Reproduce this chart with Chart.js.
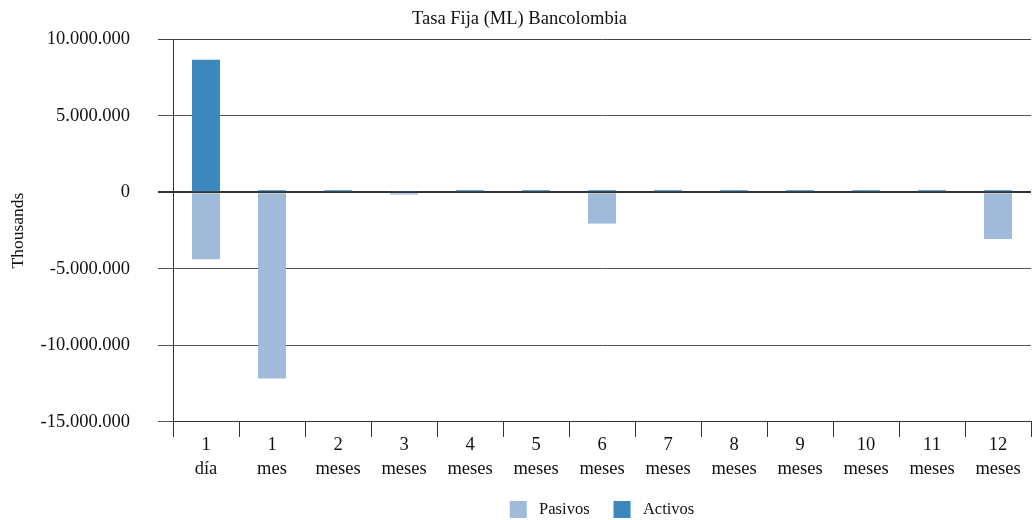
<!DOCTYPE html>
<html>
<head>
    <meta charset="utf-8">
    <title>Tasa Fija (ML) Bancolombia</title>
    <style>
        body { margin: 0; background: #fff; }
        #wrap { width: 1036px; height: 520px; }
    </style>
    <script src="https://cdn.jsdelivr.net/npm/chart.js@4/dist/chart.umd.min.js"></script>
</head>
<body>
    <div id="wrap"><canvas id="myChart" width="1036" height="520"></canvas></div>
    <script>
        var categorias = [['1', 'día'], ['1', 'mes'], ['2', 'meses'], ['3', 'meses'], ['4', 'meses'], ['5', 'meses'],
            ['6', 'meses'], ['7', 'meses'], ['8', 'meses'], ['9', 'meses'], ['10', 'meses'], ['11', 'meses'], ['12', 'meses']];
        var pasivos = [-4380000, -12170000, 0, -150000, 0, 0, -2050000, 0, 0, 0, 0, 0, -3050000];
        var activos = [8650000, 130000, 130000, 80000, 130000, 130000, 130000, 130000, 130000, 130000, 130000, 130000, 130000];
        var yTicks = [10000000, 5000000, 0, -5000000, -10000000, -15000000];

        function miles(v) {
            var s = Math.abs(v).toString().replace(/\B(?=(\d{3})+(?!\d))/g, '.');
            return (v < 0 ? '-' : '') + s;
        }

        Chart.defaults.font.family = "'Liberation Serif', 'Times New Roman', serif";
        Chart.defaults.color = '#111';

        var ctx = document.getElementById('myChart').getContext('2d');
        var myChart = new Chart(ctx, {
            type: 'bar',
            data: {
                labels: categorias,
                datasets: [{
                    label: ' Pasivos',
                    data: pasivos,
                    backgroundColor: '#a0bbd9'
                }, {
                    label: ' Activos',
                    data: activos,
                    backgroundColor: '#3b88bd'
                }]
            },
            options: {
                responsive: false,
                animation: false,
                layout: { padding: { left: 8, right: 5, top: 5, bottom: -8 } },
                categoryPercentage: 1,
                barPercentage: 0.424,
                plugins: {
                    title: {
                        display: true,
                        text: 'Tasa Fija (ML) Bancolombia',
                        font: { size: 18.5, weight: 'normal' },
                        padding: { top: 0, bottom: 9 }
                    },
                    legend: {
                        position: 'bottom',
                        fullSize: false,
                        labels: { boxWidth: 17, boxHeight: 17, padding: 24, font: { size: 16.5 } }
                    },
                    tooltip: { enabled: false }
                },
                scales: {
                    x: {
                        stacked: true,
                        grid: {
                            offset: true,
                            drawOnChartArea: false,
                            tickLength: 15,
                            color: '#333'
                        },
                        border: { color: '#333' },
                        ticks: { font: { size: 18.5, lineHeight: 1.3 }, maxRotation: 0, padding: -4, color: '#111' }
                    },
                    y: {
                        stacked: true,
                        min: -15000000,
                        max: 10000000,
                        afterBuildTicks: function (scale) {
                            scale.ticks = yTicks.map(function (v) { return { value: v }; });
                        },
                        afterFit: function (scale) { scale.width = 165; },
                        title: { display: true, text: 'Thousands', font: { size: 17.5 }, padding: 0 },
                        grid: {
                            tickLength: 15,
                            color: function (c) {
                                if (c.tick && c.tick.value === 0) return '#333';
                                if (c.tick && c.tick.value === 10000000) return '#444';
                                return '#555';
                            },
                            lineWidth: function (c) {
                                return c.tick && c.tick.value === 0 ? 2 : 1;
                            }
                        },
                        border: { color: '#333' },
                        ticks: {
                            font: { size: 18.5 },
                            padding: 28,
                            color: '#111',
                            callback: function (v) { return miles(v); }
                        }
                    }
                }
            }
        });
    </script>
</body>
</html>
